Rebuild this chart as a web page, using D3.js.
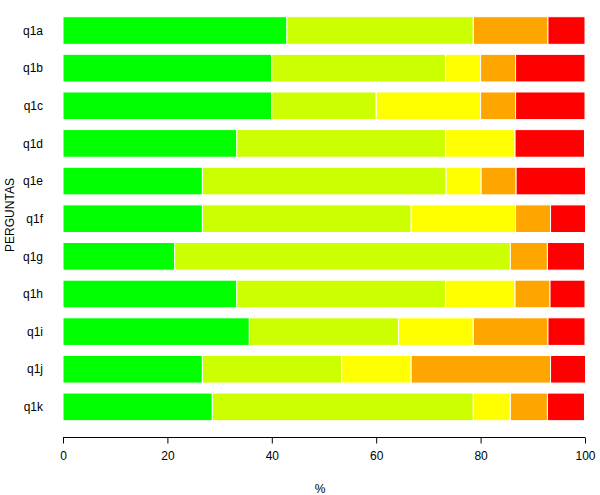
<!DOCTYPE html>
<html>
<head>
<meta charset="utf-8">
<script src="https://cdn.jsdelivr.net/npm/d3@7"></script>
<style>
  body { margin: 0; background: #fff; }
  svg { display: block; font-family: "Liberation Sans", Arial, sans-serif; }
</style>
</head>
<body>
<svg id="chart" width="600" height="495"></svg>
<script>
// questions, top to bottom
var questions = ["q1a", "q1b", "q1c", "q1d", "q1e", "q1f", "q1g", "q1h", "q1i", "q1j", "q1k"];
// answer levels (stack order, left to right)
var levels = ["l1", "l2", "l3", "l4", "l5"];
var levelColors = ["#00ff00", "#ccff00", "#ffff00", "#ffa500", "#ff0000"];

// percentage per level for each question
var l1 = [42.9, 40.0, 40.0, 33.3, 26.7, 26.7, 21.4, 33.3, 35.7, 26.7, 28.6];
var l2 = [35.7, 33.3, 20.0, 40.0, 46.7, 40.0, 64.3, 40.0, 28.6, 26.7, 50.0];
var l3 = [0.0, 6.7, 20.0, 13.3, 6.7, 20.0, 0.0, 13.3, 14.3, 13.3, 7.1];
var l4 = [14.3, 6.7, 6.7, 0.0, 6.7, 6.7, 7.1, 6.7, 14.3, 26.7, 7.1];
var l5 = [7.1, 13.3, 13.3, 13.3, 13.3, 6.7, 7.1, 6.7, 7.1, 6.7, 7.1];

var xTicks = [0, 20, 40, 60, 80, 100];

var rows = questions.map(function(q, i) {
  return { q: q, l1: l1[i], l2: l2[i], l3: l3[i], l4: l4[i], l5: l5[i] };
});

var svg = d3.select("#chart");
var x = d3.scaleLinear().domain([0, 100]).range([63, 585]);
var y = d3.scaleBand().domain(questions).range([16.7, 420.7])
    .paddingInner(0.266).paddingOuter(0);
var color = d3.scaleOrdinal().domain(levels).range(levelColors);

var series = d3.stack().keys(levels)(rows);

svg.append("g").selectAll("g")
    .data(series)
    .enter()
    .append("g")
    .attr("fill", function(d) { return color(d.key); })
    .selectAll("rect")
    .data(function(d) { return d; })
    .enter()
    .append("rect")
    .attr("x", function(d) { return x(d[0]); })
    .attr("y", function(d) { return y(d.data.q); })
    .attr("width", function(d) { return Math.max(0, x(d[1]) - x(d[0])); })
    .attr("height", y.bandwidth())
    .attr("stroke", "#fff")
    .attr("stroke-width", 1);

// x axis
var xAxis = d3.axisBottom(x).tickValues(xTicks).tickSize(6).tickPadding(8);
var gx = svg.append("g")
    .attr("transform", "translate(0,437.5)")
    .call(xAxis);
gx.select(".domain").attr("stroke", "#000").attr("d", "M" + x(0) + ",0H" + x(100));
gx.selectAll("line").attr("stroke", "#000");
gx.selectAll("text").attr("font-size", 12).attr("fill", "#000")
    .attr("font-family", "Liberation Sans, Arial, sans-serif");

// y labels
svg.append("g").selectAll("text")
    .data(questions)
    .enter()
    .append("text")
    .attr("x", 43)
    .attr("y", function(d) { return y(d) + y.bandwidth() / 2; })
    .attr("dy", "0.35em")
    .attr("text-anchor", "end")
    .attr("font-size", 12)
    .attr("fill", "#000")
    .text(function(d) { return d; });

// axis titles
svg.append("text")
    .attr("x", 320)
    .attr("y", 492.5)
    .attr("text-anchor", "middle")
    .attr("font-size", 12)
    .text("%");

svg.append("text")
    .attr("transform", "translate(13.5,215) rotate(-90)")
    .attr("text-anchor", "middle")
    .attr("font-size", 12)
    .text("PERGUNTAS");
</script>
</body>
</html>
